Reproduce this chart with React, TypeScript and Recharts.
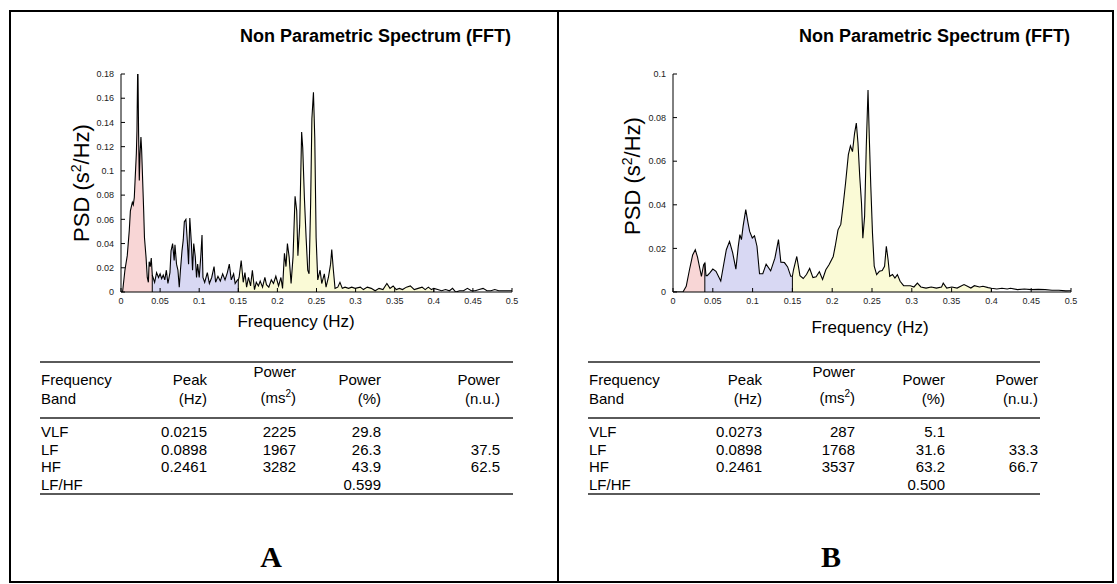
import React from 'react';
import { ComposedChart, Area, Line, XAxis, YAxis, ReferenceLine } from 'recharts';

const FONT = "'Liberation Sans', Arial, Helvetica, sans-serif";
const SERIF = "'Liberation Serif', 'Times New Roman', serif";

const TITLE = 'Non Parametric Spectrum (FFT)';
const X_TICKS = [0, 0.05, 0.1, 0.15, 0.2, 0.25, 0.3, 0.35, 0.4, 0.45, 0.5];
const Y_TICKS_A = [0, 0.02, 0.04, 0.06, 0.08, 0.1, 0.12, 0.14, 0.16, 0.18];
const Y_TICKS_B = [0, 0.02, 0.04, 0.06, 0.08, 0.1];
const BAND_EDGES = [0.04, 0.15, 0.4];
const BAND_COLORS = ['#f8d6d6', '#d8d8f3', '#fafad6'];

// Panel A spectrum (frequency in Hz, PSD in s^2/Hz)
const FREQ_A = [
  0, 0.002, 0.005, 0.008, 0.0106, 0.012, 0.0145, 0.0157, 0.017, 0.018, 0.0196, 0.0204, 0.0215, 0.0225,
  0.0234, 0.0243, 0.0255, 0.0264, 0.0277, 0.029, 0.03, 0.032, 0.0336, 0.035, 0.036, 0.0374, 0.0387, 0.04,
  0.041, 0.043, 0.0455, 0.048, 0.05, 0.052, 0.054, 0.056, 0.058, 0.06, 0.0626, 0.064, 0.066, 0.068, 0.069,
  0.071, 0.0728, 0.0745, 0.076, 0.078, 0.0796, 0.081, 0.083, 0.085, 0.0864, 0.088, 0.09, 0.0915, 0.093,
  0.095, 0.0966, 0.098, 0.1, 0.102, 0.1036, 0.1048, 0.107, 0.1104, 0.113, 0.116, 0.119, 0.121, 0.124,
  0.127, 0.13, 0.133, 0.136, 0.1385, 0.141, 0.144, 0.146, 0.149, 0.15, 0.151, 0.1537, 0.1563, 0.1585,
  0.1606, 0.163, 0.1657, 0.168, 0.1707, 0.173, 0.1757, 0.178, 0.181, 0.184, 0.186, 0.189, 0.1922, 0.195,
  0.198, 0.2015, 0.2045, 0.2066, 0.209, 0.211, 0.2128, 0.215, 0.2175, 0.22, 0.2226, 0.2247, 0.2262,
  0.2285, 0.231, 0.2324, 0.2345, 0.2367, 0.2388, 0.2405, 0.2425, 0.2441, 0.2461, 0.2478, 0.2495, 0.2516,
  0.2546, 0.2567, 0.26, 0.2622, 0.2652, 0.268, 0.2695, 0.2716, 0.2737, 0.2772, 0.28, 0.283, 0.2865, 0.291,
  0.295, 0.2995, 0.306, 0.31, 0.315, 0.32, 0.325, 0.33, 0.335, 0.34, 0.344, 0.348, 0.352, 0.356, 0.36,
  0.365, 0.37, 0.375, 0.38, 0.385, 0.389, 0.393, 0.397, 0.4, 0.405, 0.41, 0.415, 0.42, 0.424, 0.428,
  0.433, 0.438, 0.443, 0.448, 0.453, 0.458, 0.463, 0.468, 0.473, 0.478, 0.483, 0.488, 0.493, 0.5,
];
const PSD_A = [
  0, 0, 0.018, 0.03, 0.051, 0.067, 0.074, 0.072, 0.078, 0.092, 0.114, 0.133, 0.195, 0.131,
  0.092, 0.114, 0.128, 0.117, 0.092, 0.067, 0.045, 0.029, 0.012, 0.008, 0.025, 0.021, 0.028, 0.014,
  0.012, 0.008, 0.016, 0.012, 0.015, 0.011, 0.014, 0.01, 0.018, 0.007, 0.016, 0.034, 0.04, 0.026, 0.039,
  0.023, 0.018, 0.004, 0.018, 0.034, 0.043, 0.058, 0.06, 0.04, 0.023, 0.061, 0.04, 0.018, 0.04,
  0.029, 0.012, 0.023, 0.012, 0.029, 0.047, 0.012, 0.008, 0.016, 0.007, 0.012, 0.021, 0.008, 0.013,
  0.009, 0.015, 0.01, 0.016, 0.023, 0.01, 0.015, 0.007, 0.01, 0.01, 0.012, 0.026, 0.008, 0.016,
  0.004, 0.012, 0.005, 0.018, 0.002, 0.008, 0.005, 0.009, 0.004, 0.012, 0.006, 0.004, 0.01, 0.007,
  0.013, 0.005, 0.012, 0.003, 0.032, 0.021, 0.04, 0.029, 0.007, 0.029, 0.079, 0.067, 0.03,
  0.055, 0.132, 0.119, 0.078, 0.045, 0.018, 0.015, 0.073, 0.143, 0.165, 0.127, 0.045, 0.01,
  0.018, 0.007, 0.015, 0.004, 0.012, 0.023, 0.035, 0.018, 0.003, 0.004, 0.008, 0.003, 0.004, 0.003,
  0.004, 0.003, 0.004, 0.002, 0.004, 0.003, 0.001, 0.003, 0.002, 0.007, 0.003, 0.005, 0.002, 0.003, 0.002,
  0.004, 0.005, 0.002, 0.003, 0.004, 0.002, 0.004, 0.002, 0.003, 0.002, 0.001, 0.002, 0.001, 0.003, 0.0,
  0.001, 0.001, 0.003, 0.001, 0.001, 0.002, 0.003, 0.001, 0.001, 0.002, 0.001, 0.001, 0.001, 0.001,
];

// Panel B spectrum
const FREQ_B = [
  0, 0.005, 0.01, 0.0125, 0.0166, 0.0207, 0.0247, 0.028, 0.0308, 0.034, 0.0357, 0.0385, 0.04, 0.0415,
  0.043, 0.046, 0.05, 0.054, 0.06, 0.064, 0.067, 0.071, 0.075, 0.079, 0.082, 0.084, 0.086, 0.088,
  0.0914, 0.0943, 0.0963, 0.0996, 0.1024, 0.1055, 0.1087, 0.1128, 0.117, 0.1227, 0.128, 0.1325, 0.1355,
  0.14, 0.144, 0.148, 0.15, 0.1514, 0.1555, 0.1595, 0.1636, 0.1677, 0.1717, 0.1758, 0.1798, 0.1839,
  0.1879, 0.192, 0.196, 0.2013, 0.2038, 0.2073, 0.2108, 0.2138, 0.2168, 0.2203, 0.2229, 0.2255, 0.2281,
  0.2303, 0.2324, 0.2346, 0.2368, 0.2385, 0.2407, 0.2428, 0.245, 0.2467, 0.2485, 0.2506, 0.2528, 0.2558,
  0.2593, 0.2628, 0.2658, 0.268, 0.2702, 0.2723, 0.2758, 0.2788, 0.2819, 0.2853, 0.2897, 0.2983, 0.3027,
  0.307, 0.3114, 0.3179, 0.3244, 0.3309, 0.3374, 0.3395, 0.3439, 0.3504, 0.3569, 0.3656, 0.3699, 0.3742,
  0.3786, 0.3851, 0.3894, 0.3959, 0.4, 0.4068, 0.4133, 0.4198, 0.4241, 0.4328, 0.4414, 0.4501, 0.4588,
  0.4675, 0.4761, 0.4848, 0.4935, 0.5,
];
const PSD_B = [
  0, 0, 0, 0, 0.0026, 0.0102, 0.017, 0.0194, 0.016, 0.0102, 0.0072, 0.0125, 0.0133, 0.0075,
  0.0075, 0.0087, 0.0105, 0.0095, 0.005, 0.0133, 0.0194, 0.0232, 0.0179, 0.0105, 0.0209, 0.0263, 0.024, 0.03,
  0.0378, 0.0316, 0.0278, 0.0248, 0.0258, 0.021, 0.0084, 0.0084, 0.0128, 0.0097, 0.0155, 0.024, 0.0137,
  0.0135, 0.0115, 0.0072, 0.0072, 0.0102, 0.0163, 0.0075, 0.0062, 0.008, 0.0108, 0.0066, 0.007, 0.0093,
  0.0058, 0.0102, 0.0125, 0.0163, 0.021, 0.0285, 0.031, 0.04, 0.05, 0.063, 0.067, 0.0644, 0.0728,
  0.0775, 0.0682, 0.053, 0.0408, 0.0247, 0.0347, 0.0667, 0.0927, 0.0698, 0.0484, 0.027, 0.0118, 0.008,
  0.0095, 0.0099, 0.0118, 0.021, 0.0148, 0.0072, 0.008, 0.0064, 0.008, 0.0049, 0.0029, 0.0029, 0.0023,
  0.0041, 0.0023, 0.0018, 0.0023, 0.0018, 0.0023, 0.0041, 0.0018, 0.0023, 0.0018, 0.0034, 0.0026, 0.0018,
  0.0029, 0.0023, 0.0026, 0.002, 0.0017, 0.0014, 0.0017, 0.0014, 0.0017, 0.0011, 0.0014, 0.0011, 0.0012,
  0.0011, 0.0008, 0.0008, 0.0005, 0.0006,
];

// Tables
const BAND_NAMES = ['VLF', 'LF', 'HF', 'LF/HF'];
const PEAK_A = ['0.0215', '0.0898', '0.2461', ''];
const MS2_A = ['2225', '1967', '3282', ''];
const PCT_A = ['29.8', '26.3', '43.9', '0.599'];
const NU_A = ['', '37.5', '62.5', ''];
const PEAK_B = ['0.0273', '0.0898', '0.2461', ''];
const MS2_B = ['287', '1768', '3537', ''];
const PCT_B = ['5.1', '31.6', '63.2', '0.500'];
const NU_B = ['', '33.3', '66.7', ''];

function buildData(freq: number[], psd: number[]) {
  return freq.map((f, i) => ({
    f,
    psd: psd[i],
    vlf: f <= BAND_EDGES[0] ? psd[i] : null,
    lf: f >= BAND_EDGES[0] && f <= BAND_EDGES[1] ? psd[i] : null,
    hf: f >= BAND_EDGES[1] && f <= BAND_EDGES[2] ? psd[i] : null,
  }));
}

function valueAt(freq: number[], psd: number[], f: number) {
  const i = freq.indexOf(f);
  return i >= 0 ? psd[i] : 0;
}

const tickStyle = { fontSize: 9, fill: '#222', fontFamily: FONT };
const blank = () => '';

type SpecProps = {
  left: number; top: number; width: number; height: number;
  freq: number[]; psd: number[]; yMax: number; yTicks: number[];
};

function Spectrum({ left, top, width, height, freq, psd, yMax, yTicks }: SpecProps) {
  const data = buildData(freq, psd);
  const keys = ['vlf', 'lf', 'hf'];
  return (
    <div style={{ position: 'absolute', left, top }}>
      <ComposedChart width={width} height={height} data={data} margin={{ top: 10, right: 15, bottom: 0, left: 0 }}>
        <XAxis xAxisId="b" dataKey="f" type="number" domain={[0, 0.5]} ticks={X_TICKS} interval={0}
          orientation="bottom" height={50} tickSize={-4} tickMargin={10} stroke="#000" tick={tickStyle} allowDataOverflow />
        <XAxis xAxisId="t" dataKey="f" type="number" domain={[0, 0.5]} ticks={X_TICKS} interval={0}
          orientation="top" height={0} tickSize={-4} tickFormatter={blank} stroke="#000" allowDataOverflow />
        <YAxis yAxisId="l" type="number" domain={[0, yMax]} ticks={yTicks} interval={0} width={61}
          tickSize={-4} tickMargin={11} stroke="#000" tick={tickStyle} allowDataOverflow />
        <YAxis yAxisId="r" orientation="right" type="number" domain={[0, yMax]} ticks={yTicks} interval={0} width={0}
          tickSize={-4} tickFormatter={blank} stroke="#000" allowDataOverflow />
        {keys.map((k, i) => (
          <Area key={k} xAxisId="b" yAxisId="l" type="linear" dataKey={k} stroke="none" fill={BAND_COLORS[i]}
            fillOpacity={1} isAnimationActive={false} dot={false} activeDot={false} connectNulls={false} />
        ))}
        {BAND_EDGES.map((e) => (
          <ReferenceLine key={e} xAxisId="b" yAxisId="l" segment={[{ x: e, y: 0 }, { x: e, y: valueAt(freq, psd, e) }]}
            stroke="#000" strokeWidth={1} ifOverflow="hidden" />
        ))}
        <Line xAxisId="b" yAxisId="l" type="linear" dataKey="psd" stroke="#000" strokeWidth={1.1} dot={false}
          activeDot={false} isAnimationActive={false} />
      </ComposedChart>
    </div>
  );
}

const abs = (extra: React.CSSProperties): React.CSSProperties => ({ position: 'absolute', whiteSpace: 'nowrap', ...extra });

function PanelTexts({ titleRight, ylabelX, ylabelY, xlabelX, xlabelY }: any) {
  return (
    <>
      <div style={abs({ left: titleRight - 400, width: 400, top: 27, textAlign: 'right', font: `bold 18px ${FONT}`, lineHeight: '19px', color: '#000' })}>
        {TITLE}
      </div>
      <div style={abs({ left: ylabelX, top: ylabelY, transform: 'translate(-50%, -50%) rotate(-90deg)', font: `22px ${FONT}`, lineHeight: '22px' })}>
        PSD (s<sup style={{ fontSize: 14, lineHeight: 0 }}>2</sup>/Hz)
      </div>
      <div style={abs({ left: xlabelX, top: xlabelY, transform: 'translate(-50%, -50%)', font: `17px ${FONT}`, lineHeight: '18px' })}>
        Frequency (Hz)
      </div>
    </>
  );
}

type TableProps = {
  x0: number; x1: number; cols: number[];
  peak: string[]; ms2: string[]; pct: string[]; nu: string[];
};

function StatsTable({ x0, x1, cols, peak, ms2, pct, nu }: TableProps) {
  const rowY = [432, 449.5, 467, 484.5];
  const fs = `15px ${FONT}`;
  const cell = (text: React.ReactNode, cy: number, right: number | null, key: string) => (
    <div key={key} style={abs(right === null
      ? { left: x0 + 1, top: cy - 9, font: fs, lineHeight: '18px' }
      : { left: right - 120, width: 120, textAlign: 'right', top: cy - 9, font: fs, lineHeight: '18px' })}>
      {text}
    </div>
  );
  const rule = (y: number, key: string) => (
    <div key={key} style={abs({ left: x0, top: y - 1, width: x1 - x0, height: 2, background: '#5a5a5a' })} />
  );
  const cells: React.ReactNode[] = [];
  cells.push(rule(362, 'r1'), rule(418, 'r2'), rule(494, 'r3'));
  cells.push(cell('Frequency', 380, null, 'h0a'), cell('Band', 399, null, 'h0b'));
  cells.push(cell('Peak', 380, cols[0], 'h1a'), cell('(Hz)', 399, cols[0], 'h1b'));
  cells.push(cell('Power', 372, cols[1], 'h2a'), cell(<span>(ms<sup style={{ fontSize: 10, lineHeight: 0 }}>2</sup>)</span>, 398, cols[1], 'h2b'));
  cells.push(cell('Power', 380, cols[2], 'h3a'), cell('(%)', 399, cols[2], 'h3b'));
  cells.push(cell('Power', 380, cols[3], 'h4a'), cell('(n.u.)', 399, cols[3], 'h4b'));
  BAND_NAMES.forEach((b, i) => {
    cells.push(cell(b, rowY[i], null, 'b' + i));
    cells.push(cell(peak[i], rowY[i], cols[0], 'p' + i));
    cells.push(cell(ms2[i], rowY[i], cols[1], 'm' + i));
    cells.push(cell(pct[i], rowY[i], cols[2], 'c' + i));
    cells.push(cell(nu[i], rowY[i], cols[3], 'n' + i));
  });
  return <>{cells}</>;
}

export default function App() {
  return (
    <div style={{ position: 'absolute', left: 0, top: 0, width: 1117, height: 584, background: '#fff', overflow: 'hidden' }}>
      <div style={abs({ left: 9, top: 10, width: 1105, height: 573, border: '2px solid #000', boxSizing: 'border-box' })} />
      <div style={abs({ left: 557, top: 10, width: 2, height: 573, background: '#000' })} />

      <PanelTexts titleRight={511} ylabelX={82} ylabelY={183} xlabelX={296} xlabelY={322} />
      <Spectrum left={60} top={64} width={467} height={278} freq={FREQ_A} psd={PSD_A} yMax={0.18} yTicks={Y_TICKS_A} />
      <StatsTable x0={40} x1={513} cols={[207, 296, 381, 500]} peak={PEAK_A} ms2={MS2_A} pct={PCT_A} nu={NU_A} />
      <div style={abs({ left: 271, top: 557, transform: 'translate(-50%, -50%)', font: `bold 30px ${SERIF}`, lineHeight: '30px' })}>A</div>

      <PanelTexts titleRight={1070} ylabelX={633} ylabelY={176} xlabelX={870} xlabelY={328} />
      <Spectrum left={612} top={64} width={474} height={278} freq={FREQ_B} psd={PSD_B} yMax={0.1} yTicks={Y_TICKS_B} />
      <StatsTable x0={588} x1={1040} cols={[762, 855, 945, 1038]} peak={PEAK_B} ms2={MS2_B} pct={PCT_B} nu={NU_B} />
      <div style={abs({ left: 831, top: 557, transform: 'translate(-50%, -50%)', font: `bold 30px ${SERIF}`, lineHeight: '30px' })}>B</div>
    </div>
  );
}
